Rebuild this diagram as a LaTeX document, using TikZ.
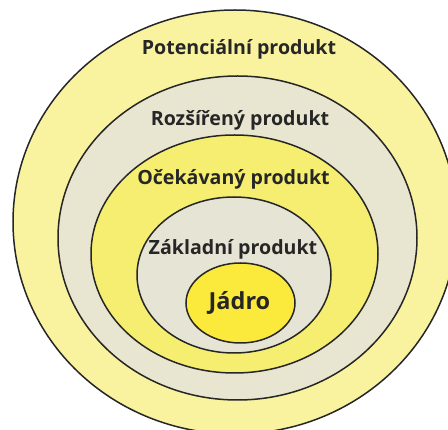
\documentclass[tikz,border=0pt]{standalone}
\usepackage{fontspec}
\setmainfont{Open Sans}
\usetikzlibrary{shapes.geometric}
\definecolor{ringA}{HTML}{F9F3A0}
\definecolor{ringB}{HTML}{E8E6D0}
\definecolor{ringC}{HTML}{F5EE70}
\definecolor{ringD}{HTML}{E6E4D4}
\definecolor{coreE}{HTML}{FBEA3B}
\definecolor{txt}{HTML}{262626}
\tikzset{
  ring/.style={ellipse, draw=black!85, line width=1.5pt, inner sep=0pt},
  lbl/.style={font=\fontsize{19.6}{22}\selectfont\bfseries, text=txt, anchor=base, inner sep=0pt},
}
\begin{document}
\begin{tikzpicture}[x=1pt,y=-1pt]
\useasboundingbox (0,0) rectangle (448,430);
\node[ring, fill=ringA, minimum width=444pt, minimum height=424pt] (pot) at (235,222) {};
\node[ring, fill=ringB, minimum width=359pt, minimum height=324pt] (roz) at (237.5,238) {};
\node[ring, fill=ringC, minimum width=287pt, minimum height=238pt] (oce) at (234.5,254) {};
\node[ring, fill=ringD, minimum width=194pt, minimum height=156pt] (zak) at (234,275) {};
\node[ring, fill=coreE, minimum width=109pt, minimum height=80pt] (jad) at (240.5,303) {};
\node[lbl] (tpot) at (239,55) {Potenciální produkt};
\node[lbl] (troz) at (240,126) {Rozšířený produkt};
\node[lbl] (toce) at (233.5,185) {Očekávaný produkt};
\node[lbl] (tzak) at (233,255) {Základní produkt};
\node[lbl, font=\fontsize{23.5}{26}\selectfont\bfseries] (tjad) at (239.5,310) {Jádro};
\end{tikzpicture}
\end{document}
